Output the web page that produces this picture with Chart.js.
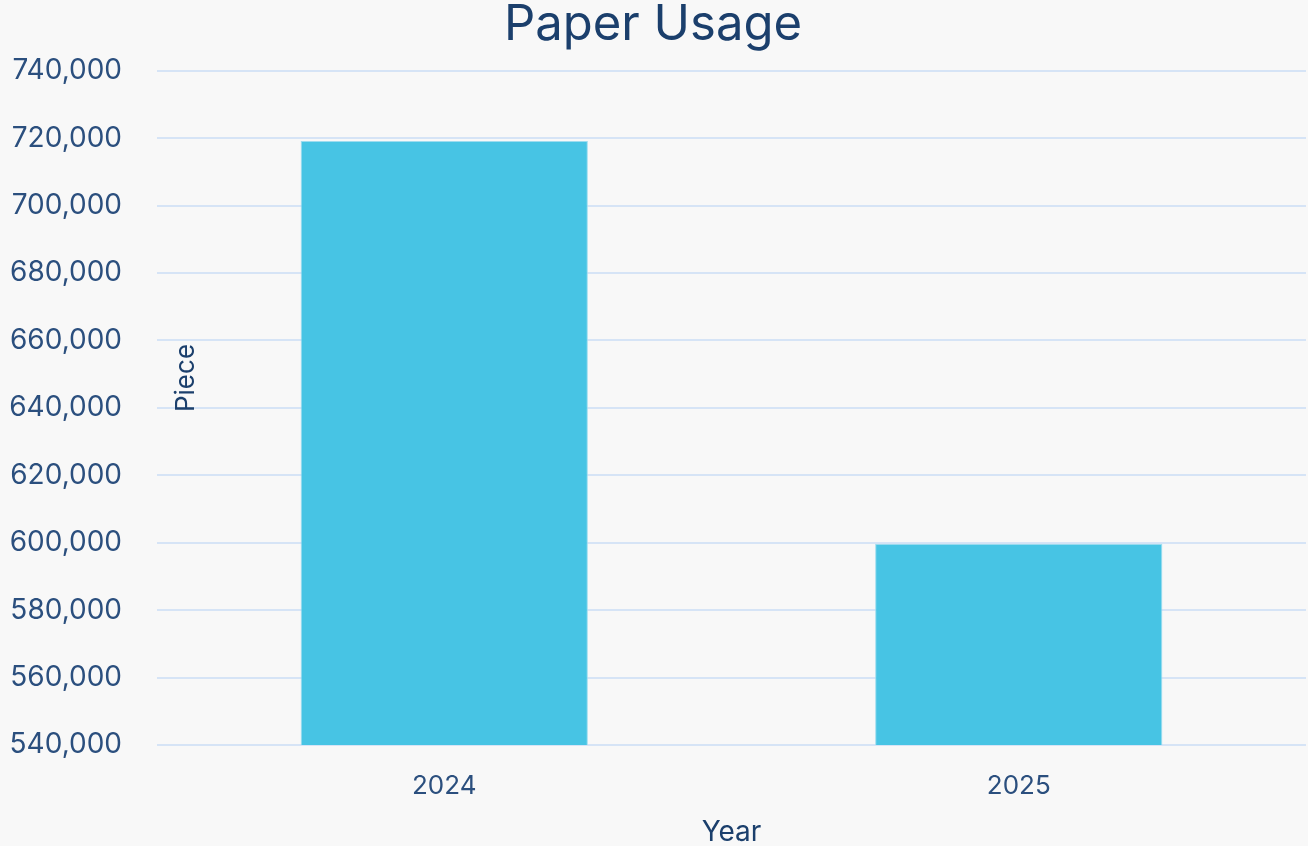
<!DOCTYPE html>
<html>
<head>
<meta charset="utf-8">
<title>Paper Usage</title>
<script src="https://cdn.jsdelivr.net/npm/chart.js@4/dist/chart.umd.min.js"></script>
<style>
  html, body { margin: 0; padding: 0; background: #f8f8f8; }
  #wrap { width: 1308px; height: 846px; }
</style>
</head>
<body>
<div id="wrap"><canvas id="paperChart"></canvas></div>
<script>
// chart data
const years = ["2024", "2025"];
const pieces = [719200, 599700];
const yMin = 540000;
const yMax = 740000;
const yStep = 20000;

const fontFamily = "Inter, 'Open Sans', sans-serif";
const darkBlue = "#1b3f6c";
const tickBlue = "#2b4f7e";

// the "Piece" label sits inside the plot, so draw it by hand
const pieceLabel = {
    id: "pieceLabel",
    afterDraw(chart) {
        const ctx = chart.ctx;
        ctx.save();
        ctx.translate(186, 378);
        ctx.rotate(-Math.PI / 2);
        ctx.font = "26px " + fontFamily;
        ctx.fillStyle = darkBlue;
        ctx.textAlign = "center";
        ctx.textBaseline = "middle";
        ctx.fillText("Piece", 0, 0);
        ctx.restore();
    }
};

const ctx = document.getElementById("paperChart").getContext("2d");
new Chart(ctx, {
    type: "bar",
    data: {
        labels: years,
        datasets: [{
            label: "Piece",
            data: pieces,
            backgroundColor: "#47c4e4",
            borderColor: "#9edcef",
            borderWidth: 1,
            barPercentage: 0.5,
            categoryPercentage: 1
        }]
    },
    options: {
        responsive: true,
        maintainAspectRatio: false,
        animation: false,
        layout: { padding: { left: 0, right: 2, top: 0, bottom: 0 } },
        plugins: {
            legend: { display: false },
            tooltip: { enabled: false },
            title: {
                display: true,
                text: "Paper Usage",
                color: darkBlue,
                font: { family: fontFamily, size: 49, weight: "normal" },
                padding: { top: -4, bottom: 16 }
            }
        },
        scales: {
            x: {
                grid: { display: false },
                border: { display: false },
                ticks: {
                    color: tickBlue,
                    font: { family: fontFamily, size: 26 },
                    padding: 18
                },
                title: {
                    display: true,
                    text: "Year",
                    color: darkBlue,
                    font: { family: fontFamily, size: 28 },
                    padding: { top: 4, bottom: -3 }
                },
                afterFit(scale) { scale.height = 101; }
            },
            y: {
                min: yMin,
                max: yMax,
                grid: {
                    color: "#d6e4f6",
                    lineWidth: 2,
                    drawTicks: false
                },
                border: { display: false },
                ticks: {
                    stepSize: yStep,
                    color: tickBlue,
                    font: { family: fontFamily, size: 28 },
                    padding: 35,
                    callback: v => v.toLocaleString("en-US")
                },
                afterFit(scale) { scale.width = 157; }
            }
        }
    },
    plugins: [pieceLabel]
});
</script>
</body>
</html>
